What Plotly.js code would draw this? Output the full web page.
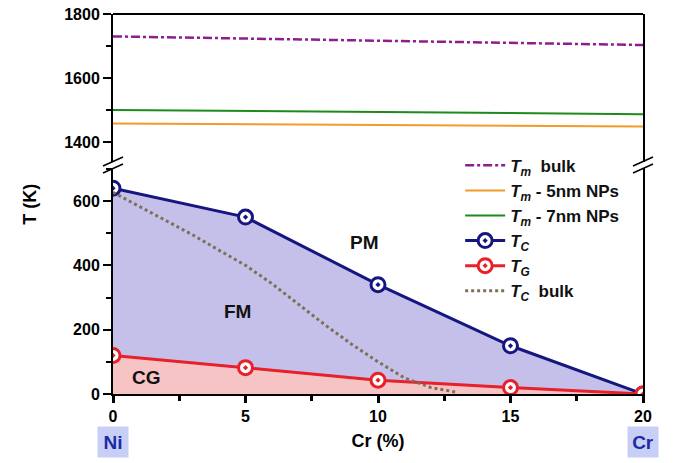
<!DOCTYPE html>
<html>
<head>
<meta charset="utf-8">
<script src="https://cdn.plot.ly/plotly-3.0.1.min.js"></script>
<style>html,body{margin:0;padding:0;background:#fff;}#chart{width:673px;height:463px;}</style>
</head>
<body>
<div id="chart"></div>
<script>
// ---- data ----
const crPct = [0, 5, 10, 15, 20];
const tmBulk = [1730, 1723, 1716, 1710, 1703];
const tm5nm = [1458, 1456, 1453, 1450, 1448];
const tm7nm = [1500, 1497, 1494, 1490, 1487];
const tcNP = [640, 550, 340, 150, 0];
const tgNP = [120, 82, 43, 20, 0];
const tcBulkX = [0, 1, 2, 3, 4, 5, 6, 7, 8, 9, 10, 11, 12, 13];
const tcBulkY = [627, 583, 540, 495, 447, 400, 343, 278, 215, 155, 100, 50, 20, 5];
const seriesNames = [
  '<i>T<sub>m</sub></i>  bulk',
  '<i>T<sub>m</sub></i> - 5nm NPs',
  '<i>T<sub>m</sub></i> - 7nm NPs',
  '<i>T<sub>C</sub></i>',
  '<i>T<sub>G</sub></i>',
  '<i>T<sub>C</sub></i>  bulk'
];
const regionLabels = ['PM', 'FM', 'CG'];
const endLabels = ['Ni', 'Cr'];

const FONT = 'Liberation Sans, Arial, sans-serif';
const BREAK = 0.6026;
const TC_COLOR = '#15167f';
const TG_COLOR = '#e8202a';

const traces = [
  // shaded regions (no legend)
  {x: crPct, y: tcNP, xaxis: 'x', yaxis: 'y', showlegend: false, mode: 'lines',
   fill: 'tozeroy', fillcolor: '#c4c0ea', line: {width: 0, color: TC_COLOR}},
  {x: crPct, y: tgNP, xaxis: 'x', yaxis: 'y', showlegend: false, mode: 'lines',
   fill: 'tozeroy', fillcolor: '#f7c4c6', line: {width: 0, color: TG_COLOR}},
  // lines with markers
  {x: crPct, y: tcNP, xaxis: 'x', yaxis: 'y', name: seriesNames[3], legendrank: 4,
   mode: 'lines+markers', line: {color: TC_COLOR, width: 3},
   marker: {symbol: 'circle-dot', size: 14, color: '#ffffff', line: {color: TC_COLOR, width: 3}}},
  {x: crPct, y: tgNP, xaxis: 'x', yaxis: 'y', name: seriesNames[4], legendrank: 5,
   mode: 'lines+markers', line: {color: TG_COLOR, width: 3},
   marker: {symbol: 'circle-dot', size: 14, color: '#ffffff', line: {color: TG_COLOR, width: 3}}},
  {x: tcBulkX, y: tcBulkY, xaxis: 'x', yaxis: 'y', name: seriesNames[5], legendrank: 6,
   mode: 'lines', line: {color: '#7d7058', width: 3, dash: 'dot'}},
  {x: crPct, y: tmBulk, xaxis: 'x', yaxis: 'y2', name: seriesNames[0], legendrank: 1,
   mode: 'lines', line: {color: '#8e1d8e', width: 2.5, dash: 'dashdot'}},
  {x: crPct, y: tm5nm, xaxis: 'x', yaxis: 'y2', name: seriesNames[1], legendrank: 2,
   mode: 'lines', line: {color: '#f49a2c', width: 2}},
  {x: crPct, y: tm7nm, xaxis: 'x', yaxis: 'y2', name: seriesNames[2], legendrank: 3,
   mode: 'lines', line: {color: '#1c8a1c', width: 2}}
];

const tickFont = {family: FONT, size: 16, color: '#000', weight: 700};

const breakShapes = [];
[0, 1].forEach(function (xp) {
  breakShapes.push({type: 'rect', xref: 'paper', yref: 'paper', xsizemode: 'pixel', ysizemode: 'pixel',
    xanchor: xp, yanchor: BREAK, x0: -4, x1: 4, y0: -3, y1: 3, fillcolor: '#ffffff', line: {width: 0}, layer: 'above'});
  breakShapes.push({type: 'line', xref: 'paper', yref: 'paper', xsizemode: 'pixel', ysizemode: 'pixel',
    xanchor: xp, yanchor: BREAK, x0: -10, x1: 10, y0: -1, y1: 8, line: {color: '#000', width: 1.5}, layer: 'above'});
  breakShapes.push({type: 'line', xref: 'paper', yref: 'paper', xsizemode: 'pixel', ysizemode: 'pixel',
    xanchor: xp, yanchor: BREAK, x0: -10, x1: 10, y0: -8, y1: 1, line: {color: '#000', width: 1.5}, layer: 'above'});
});
breakShapes.push({type: 'line', xref: 'paper', yref: 'paper', x0: 0, x1: 1, y0: 1, y1: 1,
  line: {color: '#000', width: 2}, layer: 'above'});

const labelFont = {family: FONT, size: 19, color: '#111', weight: 700};
const endFont = {family: FONT, size: 19, color: '#1c2aa6', weight: 700};
const annotations = [
  {x: 9.5, y: 470, xref: 'x', yref: 'y', text: regionLabels[0], showarrow: false, font: labelFont},
  {x: 4.7, y: 255, xref: 'x', yref: 'y', text: regionLabels[1], showarrow: false, font: labelFont},
  {x: 1.25, y: 50, xref: 'x', yref: 'y', text: regionLabels[2], showarrow: false, font: labelFont},
  {x: crPct[0], y: -0.126, xref: 'x', yref: 'paper', xanchor: 'center', yanchor: 'middle',
   text: endLabels[0], showarrow: false, bgcolor: '#c8cff6', width: 28, height: 28, font: endFont},
  {x: crPct[4], y: -0.126, xref: 'x', yref: 'paper', xanchor: 'center', yanchor: 'middle',
   text: endLabels[1], showarrow: false, bgcolor: '#c8cff6', width: 28, height: 28, font: endFont},
  {x: -0.157, y: 0.5, xref: 'paper', yref: 'paper', xanchor: 'center', yanchor: 'middle',
   text: 'T (K)', textangle: -90, showarrow: false,
   font: {family: FONT, size: 18, color: '#000', weight: 700}}
];

const layout = {
  width: 673, height: 463,
  margin: {l: 113, r: 30, t: 14, b: 69},
  paper_bgcolor: '#ffffff', plot_bgcolor: '#ffffff',
  font: {family: FONT, color: '#000'},
  showlegend: true,
  legend: {x: 0.655, y: 0.648, xanchor: 'left', yanchor: 'top', bgcolor: 'rgba(0,0,0,0)',
    font: {family: FONT, size: 17, color: '#111', weight: 700}, itemwidth: 40, traceorder: 'normal'},
  xaxis: {range: [0, 20], anchor: 'y', showline: true, linecolor: '#000', linewidth: 2,
    tickvals: crPct, ticks: 'outside', ticklen: 7, tickwidth: 3, tickcolor: '#000',
    minor: {dtick: 2.5, ticks: 'outside', ticklen: 5, tickwidth: 3, tickcolor: '#000'},
    showgrid: false, zeroline: false, tickfont: tickFont,
    title: {text: 'Cr (%)', font: {family: FONT, size: 18, color: '#000', weight: 700}, standoff: 10}},
  yaxis: {domain: [0, BREAK], range: [0, 712], anchor: 'x', showline: true, mirror: true,
    linecolor: '#000', linewidth: 2, tickvals: [0, 200, 400, 600], ticks: 'outside', ticklen: 8,
    tickwidth: 2, tickcolor: '#000',
    minor: {tickvals: [100, 300, 500, 700], ticks: 'outside', ticklen: 5, tickwidth: 2, tickcolor: '#000'},
    showgrid: false, zeroline: false, tickfont: tickFont},
  yaxis2: {domain: [BREAK, 1], range: [1328, 1800], anchor: 'x', showline: true, mirror: true,
    linecolor: '#000', linewidth: 2, tickvals: [1400, 1600, 1800], ticks: 'outside', ticklen: 8,
    tickwidth: 2, tickcolor: '#000',
    minor: {tickvals: [1500, 1700], ticks: 'outside', ticklen: 5, tickwidth: 2, tickcolor: '#000'},
    showgrid: false, zeroline: false, tickfont: tickFont},
  shapes: breakShapes,
  annotations: annotations
};

Plotly.newPlot('chart', traces, layout, {displayModeBar: false, staticPlot: true});
</script>
</body>
</html>
